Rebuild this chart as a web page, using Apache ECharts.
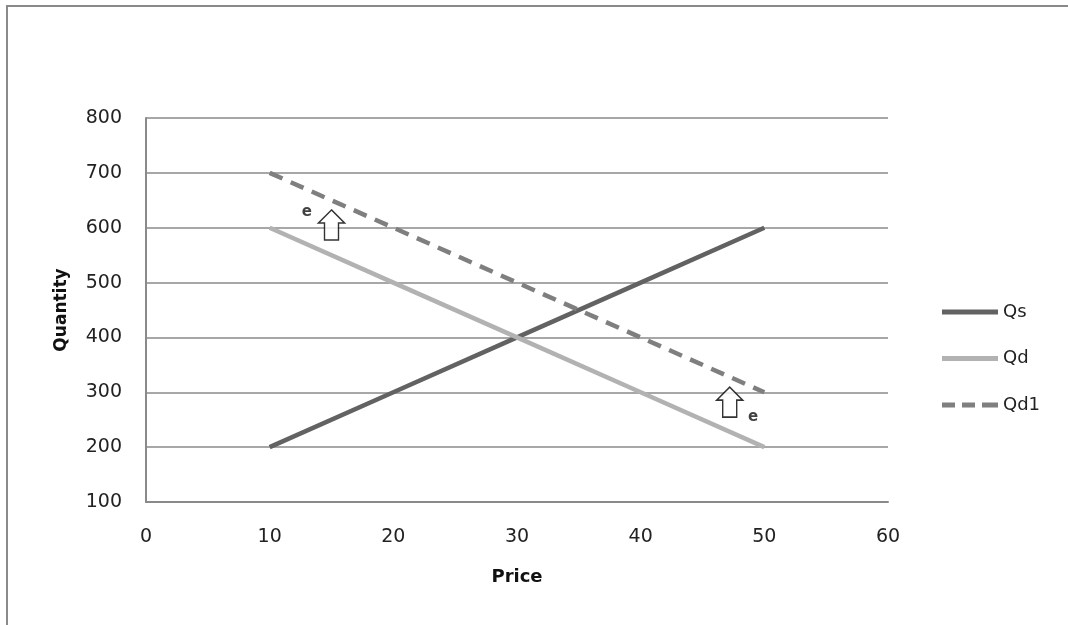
<!DOCTYPE html>
<html>
<head>
<meta charset="utf-8">
<script src="https://cdn.jsdelivr.net/npm/echarts@6/dist/echarts.min.js"></script>
<style>
html,body{margin:0;padding:0;background:#fff;}
#c{width:1068px;height:625px;}
</style>
</head>
<body>
<div id="c"></div>
<script>
var price = [10, 20, 30, 40, 50];
var qs = [200, 300, 400, 500, 600];
var qd = [600, 500, 400, 300, 200];
var qd1 = [700, 600, 500, 400, 300];
var arrowPts = [[15, 605], [47.2, 282]];
var ePts = [[13, 628], [49.1, 255]];
var xTicks = [0, 10, 20, 30, 40, 50, 60];
var yTicks = [100, 200, 300, 400, 500, 600, 700, 800];
var seriesNames = ['Qs', 'Qd', 'Qd1'];

function pairs(xs, ys) { return xs.map(function (x, i) { return [x, ys[i]]; }); }

var FONT = 'DejaVu Sans';
var dashIcon = 'path://M0 0 H13 V5 H0 Z M20 0 H33 V5 H20 Z M40 0 H56 V5 H40 Z';
var chart = echarts.init(document.getElementById('c'));
chart.setOption({
  animation: false,
  backgroundColor: '#fff',
  textStyle: { fontFamily: FONT },
  graphic: [{
    type: 'rect', shape: { x: 7, y: 6, width: 1100, height: 700 },
    style: { fill: 'none', stroke: '#8a8a8a', lineWidth: 2 }, silent: true, z: -1
  }],
  grid: { left: 146, right: 180, top: 118, bottom: 123 },
  legend: {
    orient: 'vertical', left: 937, top: 298, itemWidth: 56, itemHeight: 5, itemGap: 28.5,
    symbolKeepAspect: false,
    data: [
      { name: seriesNames[0], icon: 'rect' },
      { name: seriesNames[1], icon: 'rect' },
      { name: seriesNames[2], icon: dashIcon }
    ],
    textStyle: { fontFamily: FONT, fontSize: 18, color: '#222' }
  },
  xAxis: {
    type: 'value', min: xTicks[0], max: xTicks[xTicks.length - 1], interval: 10,
    name: 'Price', nameLocation: 'middle', nameGap: 66,
    nameTextStyle: { fontFamily: FONT, fontSize: 18, fontWeight: 'bold', color: '#111' },
    axisLine: { show: true, lineStyle: { color: '#8a8a8a', width: 2 } },
    axisTick: { show: false },
    splitLine: { show: false },
    axisLabel: { margin: 26, fontSize: 19, color: '#222', fontFamily: FONT }
  },
  yAxis: {
    type: 'value', min: yTicks[0], max: yTicks[yTicks.length - 1], interval: 100,
    name: 'Quantity', nameLocation: 'middle', nameGap: 76, nameRotate: 90,
    nameTextStyle: { fontFamily: FONT, fontSize: 17, fontWeight: 'bold', color: '#111' },
    axisLine: { show: true, lineStyle: { color: '#8a8a8a', width: 2 } },
    axisTick: { show: false },
    splitLine: { show: true, lineStyle: { color: '#8a8a8a', width: 1.5 } },
    axisLabel: { margin: 24, fontSize: 19, color: '#222', fontFamily: FONT }
  },
  series: [
    { name: seriesNames[0], type: 'line', data: pairs(price, qs), symbol: 'none',
      lineStyle: { color: '#626262', width: 4.5 }, itemStyle: { color: '#626262' } },
    { name: seriesNames[1], type: 'line', data: pairs(price, qd), symbol: 'none',
      lineStyle: { color: '#b2b2b2', width: 4.5 }, itemStyle: { color: '#b2b2b2' } },
    { name: seriesNames[2], type: 'line', data: pairs(price, qd1), symbol: 'none',
      lineStyle: { color: '#7f7f7f', width: 4.5, type: [14, 9] }, itemStyle: { color: '#7f7f7f' } },
    { name: 'arrows', type: 'scatter', data: arrowPts, z: 5,
      symbol: 'path://M13 0 L26 13 L20 13 L20 30 L6 30 L6 13 L0 13 Z',
      symbolSize: [26, 30], symbolKeepAspect: false,
      itemStyle: { color: '#fff', borderColor: '#000', borderWidth: 1.5 } },
    { name: 'elabels', type: 'scatter', data: ePts, symbolSize: 0, z: 6,
      label: { show: true, position: 'inside', formatter: 'e', fontFamily: FONT,
        fontSize: 15, fontWeight: 'bold', color: '#111' } }
  ]
});
</script>
</body>
</html>
